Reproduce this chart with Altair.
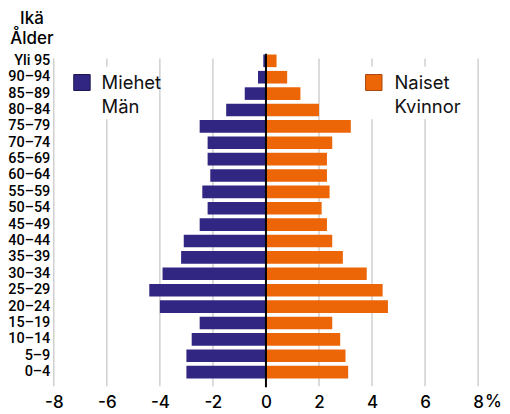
import altair as alt
import pandas as pd

ages = ["Yli 95", "90–94", "85–89", "80–84", "75–79", "70–74", "65–69", "60–64",
        "55–59", "50–54", "45–49", "40–44", "35–39", "30–34", "25–29", "20–24",
        "15–19", "10–14", "5–9", "0–4"]
men = [-0.1, -0.3, -0.8, -1.5, -2.5, -2.2, -2.2, -2.1, -2.4, -2.2,
       -2.5, -3.1, -3.2, -3.9, -4.4, -4.0, -2.5, -2.8, -3.0, -3.0]
women = [0.4, 0.8, 1.3, 2.0, 3.2, 2.5, 2.3, 2.3, 2.4, 2.1,
         2.3, 2.5, 2.9, 3.8, 4.4, 4.6, 2.5, 2.8, 3.0, 3.1]
ticks = [-8, -6, -4, -2, 0, 2, 4, 6, 8]
grid_ticks = [-8, -6, -4, -2, 2, 4, 6, 8]

PURPLE = "#312783"
ORANGE = "#EC6608"
FONT = "Inter"
W, H = 426, 329

rows = []
for a, m, w in zip(ages, men, women):
    rows.append({"age": a, "value": m, "sex": "Miehet"})
    rows.append({"age": a, "value": w, "sex": "Naiset"})
df = pd.DataFrame(rows)

xscale = alt.Scale(domain=[-8, 8], nice=False, zero=False)
yscale = alt.Scale(domain=ages, paddingInner=0.23, paddingOuter=0.115)
xaxis = alt.Axis(values=ticks, grid=False, domain=False, ticks=False,
                 title=None, labelFontSize=17, labelFont=FONT,
                 labelFontWeight=500, labelColor="black",
                 labelPadding=14, labelFlush=False, labelOverlap=False,
                 labelExpr="datum.value < 0 ? '-' + abs(datum.value) : '' + datum.value")

one = pd.DataFrame({"d": [0]})

grid = alt.Chart(pd.DataFrame({"x": grid_ticks})).mark_rule(
    color="#c4c4c4", strokeWidth=1.2
).encode(
    x=alt.X("x:Q", scale=xscale, axis=xaxis),
    y=alt.value(6), y2=alt.value(335)
)

white_boxes = alt.Chart(pd.DataFrame({"x0": [15, 305], "x1": [100, 415]})).mark_rect(
    color="white"
).encode(
    x=alt.X("x0:Q", scale=None, axis=None), x2="x1:Q",
    y=alt.value(14), y2=alt.value(67)
)

bars = alt.Chart(df).mark_bar().encode(
    x=alt.X("value:Q", scale=xscale, axis=xaxis),
    y=alt.Y("age:N", scale=yscale, sort=ages,
            axis=alt.Axis(title=None, domain=False, ticks=False, labelFontSize=14.5,
                          labelFont="Roboto", labelFontWeight=500, labelColor="black",
                          labelPadding=4)),
    color=alt.Color("sex:N", scale=alt.Scale(domain=["Miehet", "Naiset"],
                                             range=[PURPLE, ORANGE]), legend=None)
)

zero = alt.Chart(pd.DataFrame({"x": [0]})).mark_rule(color="black", strokeWidth=2).encode(
    x=alt.X("x:Q", scale=xscale, axis=xaxis),
    y=alt.value(1), y2=alt.value(336)
)

squares = alt.Chart(pd.DataFrame({
    "x0": [20, 313], "x1": [36.5, 329.5], "c": [PURPLE, ORANGE],
    "s": ["#1c1650", "#a8460a"]
})).mark_rect(strokeWidth=1).encode(
    x=alt.X("x0:Q", scale=None, axis=None), x2="x1:Q",
    y=alt.value(22), y2=alt.value(38),
    fill=alt.Fill("c:N", scale=None), stroke=alt.Stroke("s:N", scale=None)
)

legend_text = alt.Chart(pd.DataFrame({
    "x": [48, 342], "t": [["Miehet", "Män"], ["Naiset", "Kvinnor"]]
})).mark_text(align="left", baseline="alphabetic", fontSize=18.5, font=FONT,
              fontWeight=400, lineHeight=24, color="#111").encode(
    x=alt.X("x:Q", scale=None, axis=None), y=alt.value(36.5), text="t"
)

title = alt.Chart(one).mark_text(
    text=["Ikä", "Ålder"], align="center", baseline="alphabetic", fontSize=17,
    font=FONT, fontWeight=500, lineHeight=20, color="black"
).encode(x=alt.value(-22), y=alt.value(-28.5))

pct = alt.Chart(pd.DataFrame({"x": [8]})).mark_text(
    text="%", align="left", baseline="top", fontSize=17, font=FONT,
    fontWeight=500, dx=7, color="black"
).encode(x=alt.X("x:Q", scale=xscale, axis=xaxis), y=alt.value(H + 14))

chart = alt.layer(grid, white_boxes, bars, zero, squares, legend_text, title, pct).properties(
    width=W, height=H,
    autosize=alt.AutoSizeParams(type="none"),
    padding={"left": 46, "top": 44, "right": 24, "bottom": 30}
).configure_view(stroke=None)

chart.save("out.html", embed_options={"renderer": "svg", "actions": False})
